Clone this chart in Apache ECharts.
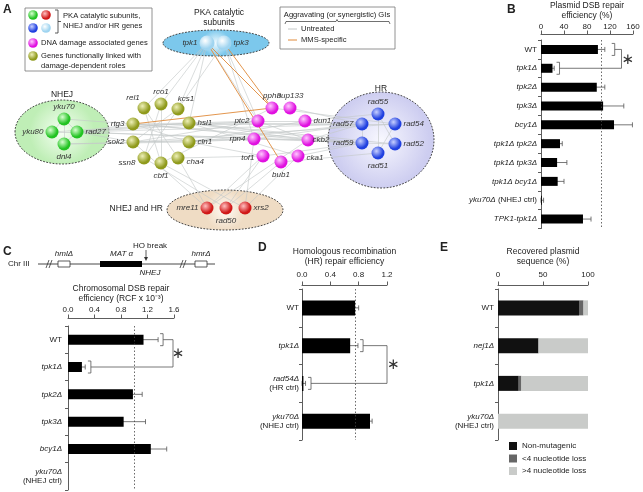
<!DOCTYPE html>
<html>
<head>
<meta charset="utf-8">
<script src="https://cdn.jsdelivr.net/npm/echarts@6/dist/echarts.min.js"></script>
<style>
  html, body { margin: 0; padding: 0; background: #fff; }
  #chart { width: 643px; height: 492px; }
</style>
</head>
<body>
<div id="chart"></div>
<script>
// ---- A: network (node layout) ----
const nodeNames = ['tpk1', 'tpk3',
  'yku70', 'yku80', 'rad27', 'dnl4',
  'rtg3', 'rel1', 'rco1', 'kcs1', 'hsl1', 'cln1', 'cha4', 'cbf1', 'ssn8', 'sok2',
  'pph3', 'nup133', 'ptc2', 'dun1', 'rpn4', 'ckb2', 'tof1', 'cka1', 'bub1',
  'rad55', 'rad57', 'rad54', 'rad59', 'rad52', 'rad51',
  'mre11', 'rad50', 'xrs2']
const nodeX = [207, 224, 64, 52, 77, 64, 133, 144, 161, 178, 189, 189, 178, 161, 144, 133,
  272, 290, 258, 305, 254, 308, 263, 298, 281, 378, 362, 395, 362, 395, 378, 207, 226, 245]
const nodeY = [43, 43, 119, 132, 132, 144, 124, 108, 104, 109, 123, 142, 158, 163, 158, 142,
  108, 108, 121, 121, 139, 140, 156, 156, 162, 114, 124, 124, 143, 144, 153, 208, 208, 208]
const nodeGroup = ['pka', 'pka', 'nhej', 'nhej', 'nhej', 'nhej',
  'func', 'func', 'func', 'func', 'func', 'func', 'func', 'func', 'func', 'func',
  'dna', 'dna', 'dna', 'dna', 'dna', 'dna', 'dna', 'dna', 'dna',
  'hr', 'hr', 'hr', 'hr', 'hr', 'hr', 'mrx', 'mrx', 'mrx']

const untreatedLinks = [
  ['yku80', 'rad27'], ['yku70', 'dnl4'], ['yku70', 'rad27'], ['dnl4', 'rad27'], ['yku80', 'yku70'],
  ['rad27', 'rtg3'], ['rad27', 'sok2'], ['rad27', 'hsl1'], ['rad27', 'ptc2'], ['rad27', 'ckb2'],
  ['rad27', 'rad57'], ['rad27', 'rad59'], ['yku70', 'rtg3'], ['yku80', 'hsl1'], ['dnl4', 'cln1'],
  ['dnl4', 'rpn4'], ['rtg3', 'hsl1'], ['rtg3', 'cln1'], ['rtg3', 'rad57'], ['rtg3', 'rad59'],
  ['rtg3', 'ckb2'], ['rel1', 'cha4'], ['rel1', 'cbf1'], ['rco1', 'ssn8'], ['rco1', 'cbf1'],
  ['kcs1', 'sok2'], ['kcs1', 'ssn8'], ['hsl1', 'rad57'], ['hsl1', 'rad59'], ['hsl1', 'ckb2'],
  ['hsl1', 'ptc2'], ['hsl1', 'rad52'], ['sok2', 'ptc2'], ['sok2', 'rpn4'], ['sok2', 'rad54'],
  ['cln1', 'rpn4'], ['cln1', 'dun1'], ['cln1', 'rad57'], ['cha4', 'mre11'], ['ssn8', 'rad50'],
  ['cbf1', 'xrs2'], ['cha4', 'tof1'], ['tpk1', 'rel1'], ['tpk1', 'rco1'], ['tpk1', 'kcs1'],
  ['tpk1', 'ptc2'], ['tpk3', 'kcs1'], ['tpk3', 'rpn4'], ['tpk1', 'hsl1'], ['tpk3', 'ptc2'],
  ['ptc2', 'ckb2'], ['ptc2', 'dun1'], ['rpn4', 'ckb2'], ['rpn4', 'rad57'], ['ckb2', 'rad57'],
  ['ckb2', 'rad59'], ['dun1', 'rad55'], ['nup133', 'rad57'], ['pph3', 'rad54'], ['tof1', 'rad59'],
  ['cka1', 'rad59'], ['bub1', 'rad51'], ['tof1', 'mre11'], ['bub1', 'rad50'], ['rpn4', 'xrs2'],
  ['tof1', 'cln1'], ['cka1', 'hsl1'], ['pph3', 'cbf1'], ['rad57', 'rad54'], ['rad59', 'rad52'],
  ['rad55', 'rad51'], ['rad57', 'rad59'], ['rad55', 'rad52'], ['rad54', 'rad51'],
  ['mre11', 'ckb2'], ['rad50', 'tof1'], ['xrs2', 'cka1'], ['mre11', 'sok2']]
const mmsLinks = [['tpk1', 'pph3'], ['tpk1', 'bub1'], ['tpk3', 'pph3'], ['rtg3', 'pph3']]

// ---- B: plasmid DSB repair ----
const bCats = ['WT', 'tpk1Δ', 'tpk2Δ', 'tpk3Δ', 'bcy1Δ', 'tpk1Δ tpk2Δ', 'tpk1Δ tpk3Δ',
  'tpk1Δ bcy1Δ', 'yku70Δ (NHEJ ctrl)', 'TPK1-tpk1Δ']
const bVals = [99, 20, 97, 108, 127, 33, 28, 29, 1.5, 73]
const bErr = [12, 3, 14, 36, 32, 4, 17, 11, 3, 14]
const bRef = 105

// ---- C: chromosomal DSB repair ----
const cCats = ['WT', 'tpk1Δ', 'tpk2Δ', 'tpk3Δ', 'bcy1Δ', 'yku70Δ\n(NHEJ ctrl)']
const cVals = [1.14, 0.21, 0.98, 0.84, 1.25, 0]
const cErr = [0.22, 0.05, 0.14, 0.33, 0.24, 0]
const cRef = 1.0

// ---- D: HR repair ----
const dCats = ['WT', 'tpk1Δ', 'rad54Δ\n(HR ctrl)', 'yku70Δ\n(NHEJ ctrl)']
const dVals = [0.75, 0.68, 0.02, 0.96]
const dErr = [0.05, 0.11, 0.03, 0.03]
const dRef = 0.75

// ---- E: recovered plasmid sequence ----
const eCats = ['WT', 'nej1Δ', 'tpk1Δ', 'yku70Δ\n(NHEJ ctrl)']
const eNonMut = [90, 45, 23, 0]
const eSmallLoss = [5, 0, 3, 0]
const eLargeLoss = [5, 55, 74, 100]

const FONT = 'Liberation Sans'

// 节点颜色
const groupColors = {
  pka: ['#ffffff', '#9fd4f0'],
  nhej: ['#d8ffd0', '#22c322'],
  func: ['#eef0b8', '#8f9a1c'],
  dna: ['#ffc8ff', '#e010e0'],
  hr: ['#c8d0ff', '#2040e0'],
  mrx: ['#ffc0c0', '#d01818']
}
const sphere = (g) => ({
  type: 'radial', x: 0.38, y: 0.35, r: 0.7,
  colorStops: [{ offset: 0, color: groupColors[g][0] }, { offset: 0.75, color: groupColors[g][1] },
    { offset: 1, color: groupColors[g][1] }]
})

// label placement for the network
const labelPlace = {
  tpk1: ['left'], tpk3: ['right'], yku70: ['top'], yku80: ['left'], rad27: ['right'], dnl4: ['bottom'],
  rtg3: ['left'], rel1: ['top', [-11, 2]], rco1: ['top'], kcs1: ['top', [8, 2]], hsl1: ['right'],
  cln1: ['right'], cha4: ['right', [0, 4]], cbf1: ['bottom'], ssn8: ['left', [0, 5]], sok2: ['left'],
  pph3: ['top'], nup133: ['top'], ptc2: ['left'], dun1: ['right'], rpn4: ['left'], ckb2: ['right', [-4, 0]],
  tof1: ['left', [0, 2]], cka1: ['right', [0, 2]], bub1: ['bottom'],
  rad55: ['top'], rad57: ['left'], rad54: ['right'], rad59: ['left'], rad52: ['right'], rad51: ['bottom'],
  mre11: ['left'], rad50: ['bottom'], xrs2: ['right']
}

const nodes = nodeNames.map((n, i) => ({
  name: n,
  value: [nodeX[i], nodeY[i]],
  symbolSize: nodeGroup[i] === 'pka' ? 15 : 13,
  itemStyle: { color: sphere(nodeGroup[i]) },
  label: { position: labelPlace[n][0], offset: labelPlace[n][1] || [0, 0] }
}))
const links = untreatedLinks.map(l => ({ source: l[0], target: l[1] }))
  .concat(mmsLinks.map(l => ({
    source: l[0], target: l[1], lineStyle: { color: '#e08a3a', width: 0.9, opacity: 1 }
  })))

// category label: gene names italic, WT and (ctrl) upright
const catLabel = (s) => s.split('\n').map(line => {
  if (line === 'WT' || line.startsWith('(')) return '{n|' + line + '}'
  const k = line.indexOf(' (')
  if (k > 0) return '{i|' + line.slice(0, k) + '}{n|' + line.slice(k) + '}'
  return '{i|' + line + '}'
}).join('\n')

const labelRich = {
  i: { fontStyle: 'italic', fontSize: 8, color: '#222', fontFamily: FONT, lineHeight: 9.5 },
  n: { fontSize: 8, color: '#222', fontFamily: FONT, lineHeight: 9.5 }
}

const AX = '#333'
function valueAxis(grid, max, interval, offset, name, nameGap, labelMargin, fmt) {
  return {
    type: 'value', gridIndex: grid, position: 'top', min: 0, max: max, interval: interval, offset: offset,
    name: name, nameLocation: 'middle', nameGap: nameGap,
    nameTextStyle: { fontSize: 8.5, color: '#222', lineHeight: 10, fontFamily: FONT },
    axisLine: { show: true, lineStyle: { color: AX, width: 0.8 } },
    axisTick: { show: true, length: 3.5, lineStyle: { color: AX, width: 0.8 } },
    axisLabel: { fontSize: 8, color: '#222', margin: labelMargin, formatter: fmt },
    splitLine: { show: false }
  }
}
function catAxis(grid, cats, margin) {
  return {
    type: 'category', gridIndex: grid, data: cats, inverse: true,
    axisLine: { show: true, lineStyle: { color: AX, width: 0.8 } },
    axisTick: { show: true, length: 3, lineStyle: { color: AX, width: 0.8 } },
    axisLabel: { margin: margin, formatter: catLabel, rich: labelRich },
    splitLine: { show: false }
  }
}
function barSeries(grid, vals, width, ref) {
  const s = {
    type: 'bar', xAxisIndex: grid, yAxisIndex: grid, data: vals, barWidth: width, z: 3,
    itemStyle: { color: '#000' }, silent: true
  }
  if (ref !== undefined) {
    s.markLine = {
      symbol: 'none', silent: true, label: { show: false },
      lineStyle: { type: [1.5, 2], color: '#444', width: 0.8 }, data: [{ xAxis: ref }]
    }
  }
  return s
}
function errSeries(grid, vals, errs) {
  return {
    type: 'custom', xAxisIndex: grid, yAxisIndex: grid, z: 2, silent: true,
    data: vals.map((v, i) => [v, i, errs[i]]),
    encode: { x: 0, y: 1 },
    renderItem: (params, api) => {
      const v = api.value(0), i = api.value(1), e = api.value(2)
      if (!e) return null
      const a = api.coord([Math.max(0, v - e), i]), b = api.coord([v + e, i])
      const h = 2.5, st = { stroke: '#555', lineWidth: 0.8 }
      return {
        type: 'group', children: [
          { type: 'line', shape: { x1: a[0], y1: a[1], x2: b[0], y2: b[1] }, style: st },
          { type: 'line', shape: { x1: b[0], y1: b[1] - h, x2: b[0], y2: b[1] + h }, style: st },
          { type: 'line', shape: { x1: a[0], y1: a[1] - h, x2: a[0], y2: a[1] + h }, style: st }
        ]
      }
    }
  }
}
// significance bracket: [catA, xA, catB, xB, xJoin, xStar]
function sigSeries(grid, row) {
  return {
    type: 'custom', xAxisIndex: grid, yAxisIndex: grid, z: 4, silent: true,
    data: [row], encode: { x: 1, y: 0 },
    renderItem: (params, api) => {
      const A = api.coord([api.value(1), api.value(0)])
      const B = api.coord([api.value(3), api.value(2)])
      const xj = api.coord([api.value(4), api.value(0)])[0]
      const xs = api.coord([api.value(5), api.value(0)])[0]
      const h = 6, arm = 3, st = { stroke: '#555', lineWidth: 0.8, fill: null }
      const br = (P) => ({
        type: 'polyline', shape: { points: [[P[0], P[1] - h], [P[0] + arm, P[1] - h], [P[0] + arm, P[1] + h], [P[0], P[1] + h]] }, style: st
      })
      return {
        type: 'group', children: [
          br(A), br(B),
          { type: 'polyline', shape: { points: [[A[0] + arm, A[1]], [xj, A[1]], [xj, B[1]], [B[0] + arm, B[1]]] }, style: st },
          { type: 'text', x: xs, y: (A[1] + B[1]) / 2 + 1, style: { text: '∗', fontSize: 15, fontFamily: 'DejaVu Sans', fill: '#333', align: 'center', verticalAlign: 'middle' } }
        ]
      }
    }
  }
}

// background ellipses for the gene groups
const ell = (cx, cy, rx, ry, c0, c1) => ({
  type: 'ellipse', shape: { cx: cx, cy: cy, rx: rx, ry: ry }, z: 0,
  style: {
    fill: new echarts.graphic.RadialGradient(0.5, 0.5, 0.5, [{ offset: 0, color: c0 }, { offset: 1, color: c1 }]),
    stroke: '#333', lineWidth: 0.9, lineDash: [1.8, 1.4]
  }
})
function T(x, y, s, st) {
  return { type: 'text', x: x, y: y, z: 5, style: Object.assign({ text: s, fontSize: 8.5, fontFamily: FONT, fill: '#222', verticalAlign: 'middle' }, st || {}) }
}
const dot = (x, y, g) => ({ type: 'circle', shape: { cx: x, cy: y, r: 4.8 }, z: 5, style: { fill: new echarts.graphic.RadialGradient(0.38, 0.35, 0.7, [{ offset: 0, color: groupColors[g][0] }, { offset: 0.75, color: groupColors[g][1] }, { offset: 1, color: groupColors[g][1] }]) } })
const L = (x1, y1, x2, y2, c, w, dash) => ({ type: 'line', z: 5, shape: { x1: x1, y1: y1, x2: x2, y2: y2 }, style: { stroke: c || '#333', lineWidth: w || 0.8, lineDash: dash || null } })
const small = { fontSize: 7.6 }

const graphics = [
  // panel letters
  T(3, 10, 'A', { fontSize: 12, fontWeight: 'bold' }),
  T(507, 10, 'B', { fontSize: 12, fontWeight: 'bold' }),
  T(3, 252, 'C', { fontSize: 12, fontWeight: 'bold' }),
  T(258, 248, 'D', { fontSize: 12, fontWeight: 'bold' }),
  T(440, 248, 'E', { fontSize: 12, fontWeight: 'bold' }),
  // group ellipses
  ell(216, 43, 53, 13, '#f0faff', '#7cc8ec'),
  ell(62, 132, 47, 32, '#f6fff4', '#bfeeb6'),
  ell(381, 140, 53, 48, '#f8f8ff', '#cdcdf0'),
  ell(225, 210, 58, 20, '#fffaf4', '#efdcc4'),
  T(219, 13, 'PKA catalytic', { align: 'center' }),
  T(219, 23, 'subunits', { align: 'center' }),
  T(62, 95, 'NHEJ', { align: 'center' }),
  T(381, 89, 'HR', { align: 'center' }),
  T(163, 209, 'NHEJ and HR', { align: 'right' }),
  // gene class legend
  { type: 'rect', z: 4, shape: { x: 25, y: 8, width: 127, height: 63 }, style: { fill: '#fff', stroke: '#777', lineWidth: 0.8 } },
  dot(33, 15, 'nhej'), dot(46, 15, 'mrx'), dot(33, 28, 'hr'), dot(46, 28, 'pka'),
  { type: 'polyline', z: 5, shape: { points: [[55, 10], [58, 10], [58, 33], [55, 33]] }, style: { stroke: '#333', lineWidth: 0.8, fill: null } },
  L(58, 21.5, 61, 21.5),
  T(63, 16, 'PKA catalytic subunits,', small),
  T(63, 26, 'NHEJ and/or HR genes', small),
  dot(33, 43, 'dna'), T(41, 43, 'DNA damage associated genes', small),
  dot(33, 56, 'func'), T(41, 56, 'Genes functionally linked with', small), T(41, 66, 'damage-dependent roles', small),
  // GI legend
  { type: 'rect', z: 4, shape: { x: 280, y: 7, width: 115, height: 42 }, style: { fill: '#fff', stroke: '#777', lineWidth: 0.8 } },
  T(337, 15, 'Aggravating (or synergistic) GIs', { align: 'center', fontSize: 7.6 }),
  { type: 'polyline', z: 5, shape: { points: [[285, 24], [286, 21.5], [336, 21.5], [337, 19.5], [338, 21.5], [389, 21.5], [390, 24]] }, style: { stroke: '#333', lineWidth: 0.7, fill: null } },
  L(288, 29, 297, 29, '#c4c8c8', 1), T(301, 29, 'Untreated', small),
  L(288, 40, 297, 40, '#e08a3a', 1), T(301, 40, 'MMS-specific', small),
  // C: chromosome schematic
  T(8, 264, 'Chr III', { fontSize: 8 }),
  L(38, 264, 215, 264, '#333', 0.9),
  L(46, 268, 49, 260, '#333', 0.8), L(49, 268, 52, 260, '#333', 0.8),
  L(180, 268, 183, 260, '#333', 0.8), L(183, 268, 186, 260, '#333', 0.8),
  { type: 'rect', z: 5, shape: { x: 58, y: 261, width: 12, height: 6 }, style: { fill: '#fff', stroke: '#333', lineWidth: 0.8 } },
  T(64, 254, 'hmlΔ', { fontSize: 8, fontStyle: 'italic', align: 'center' }),
  { type: 'rect', z: 5, shape: { x: 100, y: 261, width: 42, height: 6 }, style: { fill: '#000' } },
  T(110, 254, 'MAT α', { fontSize: 8, fontStyle: 'italic' }),
  T(150, 246, 'HO break', { fontSize: 8, align: 'center' }),
  L(146, 250, 146, 259, '#333', 0.8),
  { type: 'polygon', z: 5, shape: { points: [[144, 257], [148, 257], [146, 261]] }, style: { fill: '#333' } },
  T(150, 273, 'NHEJ', { fontSize: 8, fontStyle: 'italic', align: 'center' }),
  { type: 'rect', z: 5, shape: { x: 195, y: 261, width: 12, height: 6 }, style: { fill: '#fff', stroke: '#333', lineWidth: 0.8 } },
  T(201, 254, 'hmrΔ', { fontSize: 8, fontStyle: 'italic', align: 'center' })
]

const chart = echarts.init(document.getElementById('chart'), null, { renderer: 'canvas' })
chart.setOption({
  animation: false,
  textStyle: { fontFamily: FONT },
  grid: [
    { left: 0, top: 0, width: 505, height: 275 },
    { left: 541, top: 38.5, width: 92, height: 190 },
    { left: 68, top: 326, width: 106, height: 164 },
    { left: 302, top: 289, width: 85, height: 151 },
    { left: 498, top: 289, width: 90, height: 151 }
  ],
  xAxis: [
    { type: 'value', gridIndex: 0, min: 0, max: 505, show: false },
    valueAxis(1, 160, 40, 6, 'Plasmid DSB repair\nefficiency (%)', 13, 3),
    valueAxis(2, 1.6, 0.4, 8, 'Chromosomal DSB repair\nefficiency (RCF x 10⁻³)', 14, 4, v => v.toFixed(1)),
    valueAxis(3, 1.2, 0.4, 4, 'Homologous recombination\n(HR) repair efficiency', 18, 6, v => v.toFixed(1)),
    valueAxis(4, 100, 50, 4, 'Recovered plasmid\nsequence (%)', 18, 6)
  ],
  yAxis: [
    { type: 'value', gridIndex: 0, min: 0, max: 275, inverse: true, show: false },
    catAxis(1, bCats, 4),
    catAxis(2, cCats, 6),
    catAxis(3, dCats, 3),
    catAxis(4, eCats, 4)
  ],
  legend: {
    orient: 'vertical', left: 504, top: 437, itemWidth: 8, itemHeight: 8, itemGap: 4.5, icon: 'rect',
    textStyle: { fontSize: 8, color: '#222', fontFamily: FONT },
    data: ['Non-mutagenic', '<4 nucleotide loss', '>4 nucleotide loss']
  },
  graphic: graphics,
  series: [
    {
      type: 'graph', coordinateSystem: 'cartesian2d', xAxisIndex: 0, yAxisIndex: 0, silent: true,
      symbol: 'circle', data: nodes, links: links, z: 3,
      lineStyle: { color: '#c4c9c9', width: 0.7, opacity: 0.9 },
      label: { show: true, fontSize: 8, fontStyle: 'italic', color: '#333', distance: 2, fontFamily: FONT },
      emphasis: { disabled: true }
    },
    barSeries(1, bVals, 9, bRef), errSeries(1, bVals, bErr), sigSeries(1, [0, 123, 1, 27, 140, 151]),
    barSeries(2, cVals, 10, cRef), errSeries(2, cVals, cErr), sigSeries(2, [0, 1.39, 1, 0.30, 1.585, 1.66]),
    barSeries(3, dVals, 15, dRef), errSeries(3, dVals, dErr), sigSeries(3, [1, 0.82, 2, 0.085, 1.2, 1.29]),
    { name: 'Non-mutagenic', type: 'bar', stack: 'e', xAxisIndex: 4, yAxisIndex: 4, data: eNonMut, barWidth: 15, itemStyle: { color: '#111' } },
    { name: '<4 nucleotide loss', type: 'bar', stack: 'e', xAxisIndex: 4, yAxisIndex: 4, data: eSmallLoss, barWidth: 15, itemStyle: { color: '#666' } },
    { name: '>4 nucleotide loss', type: 'bar', stack: 'e', xAxisIndex: 4, yAxisIndex: 4, data: eLargeLoss, barWidth: 15, itemStyle: { color: '#c9cbc9' } }
  ]
})
</script>
</body>
</html>
